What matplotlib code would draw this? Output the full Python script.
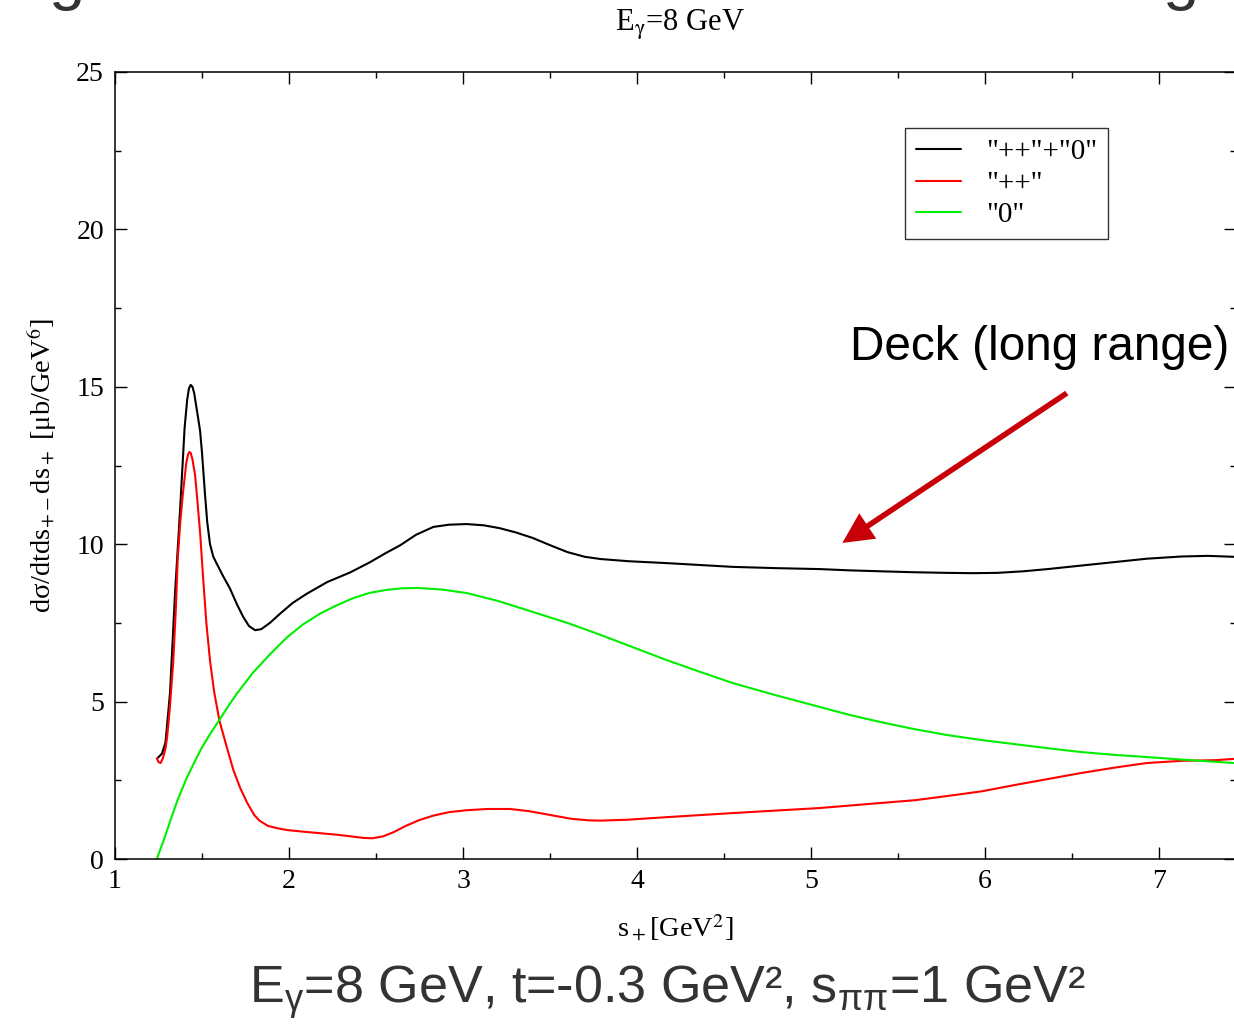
import matplotlib
matplotlib.use("Agg")
import matplotlib.pyplot as plt
from matplotlib.ticker import MultipleLocator

plt.rcParams['font.family'] = 'Liberation Serif'
plt.rcParams['mathtext.fontset'] = 'stix'
# sans fonts for the slide caption (math_fontfamily='custom')
plt.rcParams['mathtext.rm'] = 'Liberation Sans'
plt.rcParams['mathtext.it'] = 'Liberation Sans'
plt.rcParams['mathtext.bf'] = 'Liberation Sans:bold'

# s_+ [GeV^2] and dsigma values for each contribution
s_total = [1.247, 1.27, 1.29, 1.30, 1.316, 1.33, 1.345, 1.36, 1.374, 1.39, 1.40,
           1.415, 1.425, 1.435, 1.445, 1.455, 1.475, 1.489, 1.50, 1.517, 1.53, 1.546,
           1.565, 1.584, 1.62, 1.66, 1.70, 1.736, 1.77, 1.805, 1.84, 1.89, 1.95,
           2.02, 2.10, 2.22, 2.35, 2.466, 2.55, 2.64, 2.73, 2.83, 2.92, 3.02, 3.12,
           3.21, 3.30, 3.40, 3.50, 3.60, 3.70, 3.79, 3.95, 4.17, 4.36, 4.55, 4.80,
           5.05, 5.22, 5.40, 5.59, 5.78, 5.93, 6.07, 6.22, 6.36, 6.55, 6.74, 6.93,
           7.13, 7.28, 7.43]
sig_total = [3.22, 3.35, 3.7, 4.3, 5.27, 6.8, 8.45, 9.8, 11.1, 12.7, 13.7,
             14.6, 14.95, 15.06, 15.0, 14.8, 14.1, 13.6, 12.9, 11.6, 10.7, 10.0,
             9.6, 9.39, 9.0, 8.6, 8.1, 7.7, 7.4, 7.27, 7.3, 7.5, 7.8,
             8.13, 8.42, 8.8, 9.1, 9.43, 9.7, 9.97, 10.3, 10.55, 10.62, 10.64, 10.6,
             10.51, 10.38, 10.2, 9.97, 9.75, 9.6, 9.53, 9.46, 9.40, 9.34, 9.28, 9.24,
             9.21, 9.17, 9.14, 9.11, 9.09, 9.08, 9.09, 9.14, 9.21, 9.32, 9.43, 9.54,
             9.61, 9.63, 9.60]

s_pp = [1.24, 1.25, 1.262, 1.275, 1.29, 1.30, 1.315, 1.335, 1.35, 1.36, 1.375,
        1.39, 1.41, 1.42, 1.427, 1.435, 1.445, 1.46, 1.47, 1.49, 1.506, 1.525,
        1.546, 1.57, 1.60, 1.64, 1.68, 1.72, 1.76, 1.80, 1.83, 1.88, 1.94, 1.99,
        2.08, 2.18, 2.28, 2.37, 2.43, 2.48, 2.54, 2.60, 2.67, 2.75, 2.83, 2.92,
        3.02, 3.14, 3.27, 3.38, 3.50, 3.62, 3.72, 3.79, 3.95, 4.17, 4.55, 4.80,
        5.05, 5.40, 5.60, 5.78, 5.98, 6.17, 6.36, 6.55, 6.74, 6.93, 7.13, 7.32,
        7.43]
sig_pp = [3.2, 3.08, 3.05, 3.2, 3.5, 3.9, 4.8, 6.3, 8.0, 9.5, 10.7,
          11.6, 12.6, 12.85, 12.93, 12.9, 12.7, 12.2, 11.6, 10.3, 8.96, 7.5,
          6.3, 5.3, 4.4, 3.6, 2.83, 2.25, 1.78, 1.4, 1.22, 1.05, 0.97, 0.92,
          0.87, 0.82, 0.77, 0.71, 0.67, 0.66, 0.72, 0.85, 1.05, 1.24, 1.38, 1.49,
          1.55, 1.59, 1.59, 1.52, 1.40, 1.28, 1.23, 1.22, 1.25, 1.33, 1.46, 1.54,
          1.62, 1.78, 1.87, 2.00, 2.15, 2.35, 2.54, 2.73, 2.90, 3.05, 3.12, 3.14,
          3.18]

s_zero = [1.24, 1.28, 1.32, 1.36, 1.41, 1.46, 1.50, 1.55, 1.60, 1.65, 1.70, 1.79,
          1.89, 1.99, 2.08, 2.18, 2.27, 2.37, 2.46, 2.56, 2.65, 2.74, 2.88, 3.02,
          3.20, 3.40, 3.60, 3.79, 3.98, 4.17, 4.36, 4.55, 4.80, 5.05, 5.22, 5.40,
          5.59, 5.78, 5.98, 6.17, 6.36, 6.55, 6.74, 6.93, 7.13, 7.43]
sig_zero = [0.0, 0.6, 1.25, 1.88, 2.55, 3.12, 3.55, 4.0, 4.42, 4.85, 5.25, 5.9,
            6.5, 7.05, 7.45, 7.8, 8.05, 8.29, 8.45, 8.55, 8.6, 8.61, 8.56, 8.45,
            8.2, 7.85, 7.5, 7.12, 6.72, 6.32, 5.95, 5.59, 5.2, 4.83, 4.58, 4.35,
            4.13, 3.94, 3.78, 3.65, 3.52, 3.40, 3.31, 3.24, 3.16, 3.05]

labels = ['"++"+"0"', '"++"', '"0"']

fig = plt.figure(figsize=(12.34, 10.24), dpi=100)
ax = fig.add_axes([0.0932, 0.1611, 0.9081, 0.7686])

line_kw = dict(lw=1.5, solid_joinstyle='round', solid_capstyle='round')
ax.plot(s_total, sig_total, color='black', label=labels[0], **line_kw)
ax.plot(s_pp, sig_pp, color='#ff0000', label=labels[1], **line_kw)
ax.plot(s_zero, sig_zero, color='#00ee00', label=labels[2], **line_kw)

ax.set_xlim(1, 7.44)
ax.set_ylim(0, 25)
ax.xaxis.set_major_locator(MultipleLocator(1))
ax.xaxis.set_minor_locator(MultipleLocator(0.5))
ax.yaxis.set_major_locator(MultipleLocator(5))
ax.yaxis.set_minor_locator(MultipleLocator(2.5))
ax.tick_params(which='both', direction='in', top=True, right=True, labelsize=20)
ax.tick_params(which='major', length=8.6, width=1.0)
ax.tick_params(which='minor', length=4.3, width=1.0)
ax.tick_params(axis='x', pad=7)
ax.tick_params(axis='y', pad=8)
for sp in ax.spines.values():
    sp.set_linewidth(1.1)

ax.set_xlabel(r's$_+$[GeV$^2$]', fontsize=20.5, labelpad=13)
ax.set_ylabel(r'dσ/dtds$_{+-}$ds$_+$ [μb/GeV$^6$]', fontsize=20.5, labelpad=12)
fig.text(680 / 1234, 0.9697, r'E$_{\mathrm{γ}}$=8 GeV', fontsize=22,
         ha='center', va='baseline')

leg = ax.legend(loc='upper left', bbox_to_anchor=(0.705, 0.929), fontsize=21,
                frameon=True, fancybox=False, edgecolor='black', borderaxespad=0,
                handlelength=1.55, handletextpad=0.85, borderpad=0.38,
                labelspacing=0.17)
leg.get_frame().set_linewidth(1.0)

# slide annotation
ax.text(5.224, 15.85, 'Deck (long range)', fontsize=34.4, family='Liberation Sans',
        ha='left', va='baseline')
ax.annotate('', xy=(5.18, 10.04), xytext=(6.47, 14.8),
            arrowprops=dict(arrowstyle='simple,head_length=1.1,head_width=1.1,tail_width=0.2',
                            mutation_scale=20, lw=0, color='#c80008',
                            shrinkA=0, shrinkB=0))

# slide caption and leftover title glyphs
fig.text(667.5 / 1234, 21 / 1024,
         r'E$_{\mathrm{γ}}$=8 GeV, t=-0.3 GeV², s$_{\mathrm{ππ}}$=1 GeV²',
         fontsize=37.5, family='Liberation Sans', color='#333333',
         ha='center', va='baseline', math_fontfamily='custom')
fig.text(66 / 1234, 1 + 2 / 1024, 'g', fontsize=47, family='Liberation Sans',
         color='#333333', ha='center', va='baseline')
fig.text(1180 / 1234, 1 + 2 / 1024, 'g', fontsize=47, family='Liberation Sans',
         color='#333333', ha='center', va='baseline')

fig.savefig('out.png', dpi=100)
